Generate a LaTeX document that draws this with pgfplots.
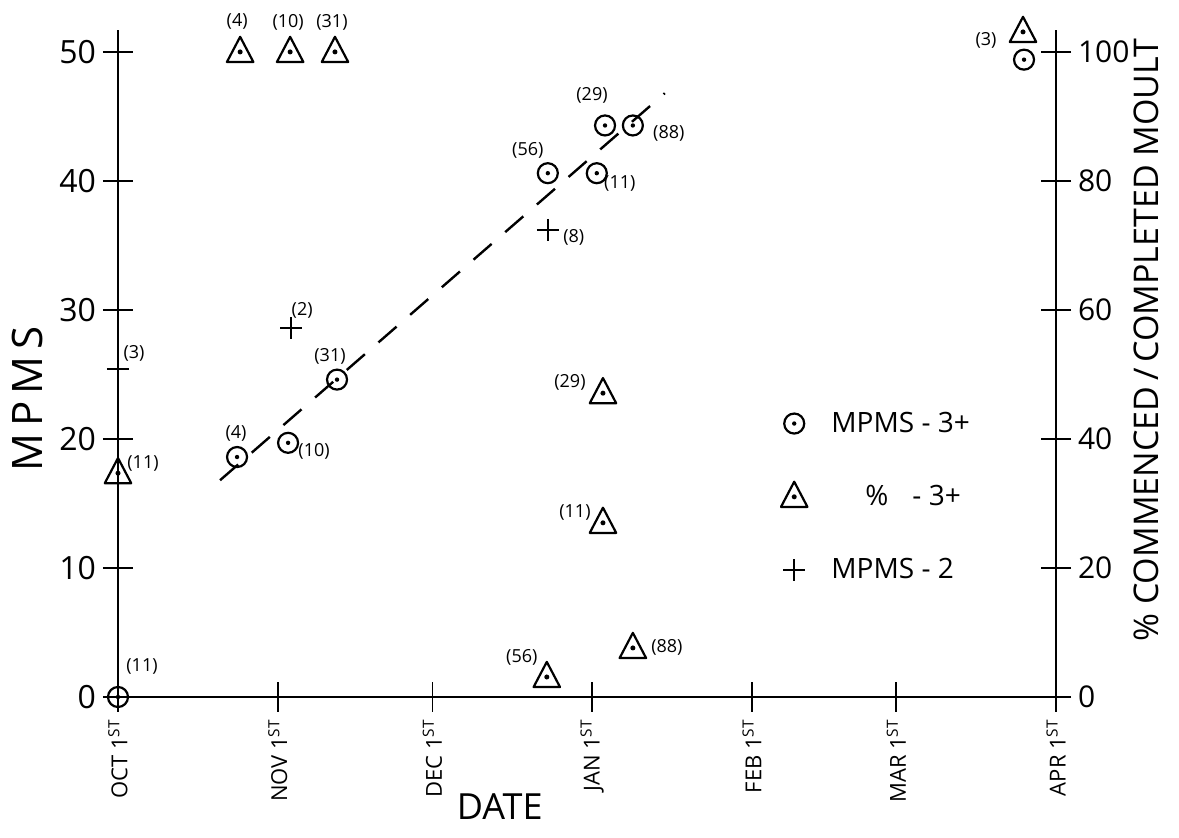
\documentclass[border=0pt]{standalone}
\usepackage{fontspec}
\setmainfont{Open Sans}
\usepackage{pgfplots}
\pgfplotsset{compat=1.18}

% circle with a dot, triangle with a dot
\pgfdeclareplotmark{odot}{%
  \pgfpathcircle{\pgfpointorigin}{\pgfplotmarksize}\pgfusepathqstroke
  \pgfpathcircle{\pgfpointorigin}{0.22\pgfplotmarksize}\pgfusepathqfill}
\pgfdeclareplotmark{tridot}{%
  \pgfpathmoveto{\pgfqpoint{0pt}{1.2\pgfplotmarksize}}%
  \pgfpathlineto{\pgfqpoint{1.05\pgfplotmarksize}{-0.8\pgfplotmarksize}}%
  \pgfpathlineto{\pgfqpoint{-1.05\pgfplotmarksize}{-0.8\pgfplotmarksize}}%
  \pgfpathclose\pgfusepathqstroke
  \pgfpathcircle{\pgfpointorigin}{0.2\pgfplotmarksize}\pgfusepathqfill}

\newcommand{\lab}[4]{\node[font=\fontsize{9}{10}\selectfont, xshift=#3pt, yshift=#4pt] at (axis cs:#1) {#2};}

\pgfplotsset{
  common/.style={
    scale only axis, width=469pt, height=333.5pt,
    xmin=0, xmax=182,
    axis line style={line width=1pt},
    every tick/.style={black, line width=0.8pt},
    tick align=center, major tick length=15pt,
    /pgf/number format/assume math mode=true,
    clip=false,
  },
  circ/.style={only marks, mark=odot, mark size=5pt, line width=1.1pt, black},
  tri/.style={only marks, mark=tridot, mark size=6.3pt, line width=1.1pt, black, mark options={line join=round}},
  crs/.style={only marks, mark=+, mark size=5.5pt, line width=1.1pt, black},
}

\begin{document}
\begin{tikzpicture}
\useasboundingbox (-59pt,-70.5pt) rectangle (530.5pt,348.5pt);

\begin{axis}[common,
  ymin=0, ymax=51.7,
  axis x line*=bottom, axis y line*=left,
  xtick={0,31,61,92,123,151,182},
  xticklabels={OCT 1\textsuperscript{ST}, NOV 1\textsuperscript{ST}, DEC 1\textsuperscript{ST}, JAN 1\textsuperscript{ST}, FEB 1\textsuperscript{ST}, MAR 1\textsuperscript{ST}, APR 1\textsuperscript{ST}},
  xticklabel style={rotate=90, anchor=east, font=\fontsize{11}{12}\selectfont},
  ytick={0,10,...,50},
  yticklabel style={font=\fontsize{16}{18}\selectfont},
]
% fitted line
\addplot[forget plot, black, line width=1.2pt, dash pattern=on 12pt off 9pt] coordinates {(19.8,16.8) (106.1,46.8)};
% MPMS 3+
\addplot[circ] coordinates {(0,0) (23.1,18.6) (33.0,19.7) (42.5,24.6) (83.4,40.6) (92.9,40.6) (94.5,44.3) (99.9,44.3) (175.8,49.4)};
% MPMS 2
\addplot[crs] coordinates {(0,25.4) (33.6,28.6) (83.4,36.2)};

\lab{0,0}{(11)}{12}{15}
\lab{23.1,18.6}{(4)}{-0.5}{12}
\lab{33.0,19.7}{(10)}{13}{-4.5}
\lab{42.5,24.6}{(31)}{-3.5}{11.5}
\lab{83.4,40.6}{(56)}{-10}{11.5}
\lab{92.9,40.6}{(11)}{11.5}{-5}
\lab{94.5,44.3}{(29)}{-6.5}{15}
\lab{99.9,44.3}{(88)}{18}{-4}
\lab{0,25.4}{(3)}{8}{8}
\lab{33.6,28.6}{(2)}{5.5}{9}
\lab{83.4,36.2}{(8)}{13}{-3.5}

\node[rotate=90, font=\fontsize{21}{24}\selectfont] at ([xshift=-45pt]rel axis cs:0,0.447) {M\,P\,M\,S};
\node[font=\fontsize{18}{20}\selectfont] at ([yshift=-55pt]rel axis cs:0.407,0) {DATE};
\node[rotate=90, font=\fontsize{17}{20}\selectfont] at ([xshift=45pt]rel axis cs:1,0.535) {\% COMMENCED\,/\,COMPLETED MOULT};
\end{axis}

\begin{axis}[common,
  ymin=0, ymax=103.4,
  axis x line=none, axis y line*=right,
  ytick={0,20,...,100},
  yticklabel style={font=\fontsize{15}{18}\selectfont},
  legend style={draw=none, fill=none, at={(0.70,0.44)}, anchor=north west,
    font=\fontsize{14}{16}\selectfont, row sep=21pt},
  legend cell align=left,
]
\addlegendimage{circ}
\addlegendentry{\hspace*{10pt}MPMS - 3+}
% % commenced / completed, 3+
\addplot[tri] coordinates {(23.7,100) (33.4,100) (42.1,100) (0,34.7) (94.1,47.1) (94.1,27.0) (83.2,3.1) (99.9,7.6) (175.6,103.1)};
\addlegendentry{\hspace*{27pt}\%\hspace{12pt}- 3+}
\addlegendimage{crs}
\addlegendentry{\hspace*{10pt}MPMS - 2}

\lab{23.7,100}{(4)}{-1.5}{15}
\lab{33.4,100}{(10)}{-1}{15}
\lab{42.1,100}{(31)}{-1.5}{15}
\lab{0,34.7}{(11)}{12.5}{5}
\lab{94.1,47.1}{(29)}{-16.5}{5.5}
\lab{94.1,27.0}{(11)}{-14}{5}
\lab{83.2,3.1}{(56)}{-12.5}{10}
\lab{99.9,7.6}{(88)}{17}{0.5}
\lab{175.6,103.1}{(3)}{-18.5}{-4}
\end{axis}
\end{tikzpicture}
\end{document}
